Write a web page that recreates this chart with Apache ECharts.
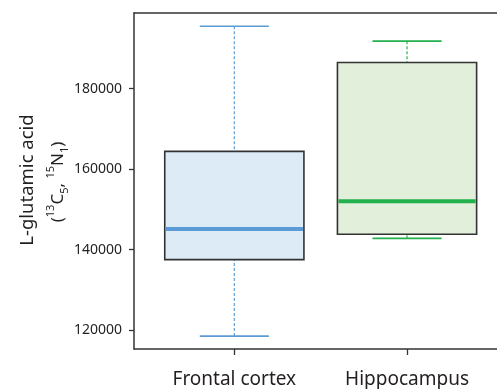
<!DOCTYPE html>
<html>
<head>
<meta charset="utf-8">
<script src="https://cdn.jsdelivr.net/npm/echarts@6/dist/echarts.min.js"></script>
<style>
  html, body { margin: 0; padding: 0; background: #fff; }
  #chart { width: 497px; height: 389px; }
</style>
</head>
<body>
<div id="chart"></div>
<script>
// Box-plot summary of L-glutamic acid (13C5, 15N1) by brain region
const categories = ['Frontal cortex', 'Hippocampus'];
const lowerWhisker = [118500, 142800];
const q1 = [137500, 143800];
const median = [145100, 152000];
const q3 = [164400, 186500];
const upperWhisker = [195500, 191800];
const yTicks = [120000, 140000, 160000, 180000];

const strokeColors = ['#5b9bd5', '#22b14c'];
const fillColors = ['#dcebf6', '#e2efda'];
const textColor = '#231f20';

const boxData = categories.map((c, i) => [i + 1, lowerWhisker[i], q1[i], median[i], q3[i], upperWhisker[i]]);

const BOX_HALF = 0.403;
const CAP_HALF = 0.2;

function renderBox(params, api) {
  const i = params.dataIndex;
  const x = api.value(0);
  const lo = api.coord([x, api.value(1)]);
  const b1 = api.coord([x, api.value(2)]);
  const md = api.coord([x, api.value(3)]);
  const b3 = api.coord([x, api.value(4)]);
  const hi = api.coord([x, api.value(5)]);
  const left = api.coord([x - BOX_HALF, 0])[0];
  const right = api.coord([x + BOX_HALF, 0])[0];
  const capL = api.coord([x - CAP_HALF, 0])[0];
  const capR = api.coord([x + CAP_HALF, 0])[0];
  const col = strokeColors[i];
  const dashStyle = { stroke: col, lineWidth: 1.3, lineDash: [3, 2], opacity: 0.9 };
  const capStyle = { stroke: col, lineWidth: 1.6 };
  return {
    type: 'group',
    children: [
      { type: 'line', shape: { x1: hi[0], y1: hi[1], x2: b3[0], y2: b3[1] }, style: dashStyle },
      { type: 'line', shape: { x1: lo[0], y1: lo[1], x2: b1[0], y2: b1[1] }, style: dashStyle },
      { type: 'line', shape: { x1: capL, y1: hi[1], x2: capR, y2: hi[1] }, style: capStyle },
      { type: 'line', shape: { x1: capL, y1: lo[1], x2: capR, y2: lo[1] }, style: capStyle },
      { type: 'rect', shape: { x: left, y: b3[1], width: right - left, height: b1[1] - b3[1] },
        style: { fill: fillColors[i], stroke: '#333', lineWidth: 1.6 } },
      { type: 'line', shape: { x1: left + 1, y1: md[1], x2: right - 1, y2: md[1] },
        style: { stroke: col, lineWidth: 4 } }
    ]
  };
}

const frameLine = { show: true, lineStyle: { color: '#333', width: 1.5 } };

const chart = echarts.init(document.getElementById('chart'));
chart.setOption({
  animation: false,
  backgroundColor: '#fff',
  grid: { left: 134, right: 0, top: 13, bottom: 40 },
  xAxis: [
    {
      type: 'value', min: 0.419, max: 2.521,
      splitLine: { show: false },
      axisLine: frameLine,
      axisTick: { show: true, customValues: [1, 2], length: 6, lineStyle: { color: '#333', width: 1.3 } },
      axisLabel: {
        customValues: [1, 2],
        formatter: v => categories[Math.round(v) - 1],
        fontFamily: 'Noto Sans', fontSize: 19, color: textColor, margin: 21
      }
    },
    {
      // top edge of the plot frame
      type: 'value', position: 'top', min: 0.419, max: 2.521,
      splitLine: { show: false }, axisLine: frameLine,
      axisTick: { show: false }, axisLabel: { show: false }
    }
  ],
  yAxis: {
    type: 'value', min: 115300, max: 198800,
    splitLine: { show: false },
    axisLine: frameLine,
    axisTick: { show: true, customValues: yTicks, length: 5, lineStyle: { color: '#333', width: 1.3 } },
    axisLabel: {
      customValues: yTicks,
      formatter: v => String(v),
      fontFamily: 'Noto Sans', fontSize: 14, color: textColor, margin: 12
    }
  },
  graphic: [
    {
      type: 'text', x: 28, y: 180, rotation: Math.PI / 2,
      style: {
        text: 'L-glutamic acid', fontFamily: 'Noto Sans', fontSize: 18.5, fill: textColor,
        align: 'center', verticalAlign: 'middle'
      }
    },
    {
      type: 'text', x: 58, y: 182, rotation: Math.PI / 2,
      style: {
        text: '({s|13}C{b|5}, {s|15}N{b|1})',
        fontFamily: 'Noto Sans', fontSize: 17, fill: textColor,
        align: 'center', verticalAlign: 'middle', lineHeight: 25,
        rich: {
          s: { fontFamily: 'Noto Sans', fontSize: 11, fill: textColor, verticalAlign: 'top', lineHeight: 12 },
          b: { fontFamily: 'Noto Sans', fontSize: 11, fill: textColor, verticalAlign: 'bottom', lineHeight: 15 }
        }
      }
    }
  ],
  series: [{
    type: 'custom',
    xAxisIndex: 0,
    renderItem: renderBox,
    encode: { x: 0, y: [1, 2, 3, 4, 5] },
    data: boxData
  }]
});
</script>
</body>
</html>
